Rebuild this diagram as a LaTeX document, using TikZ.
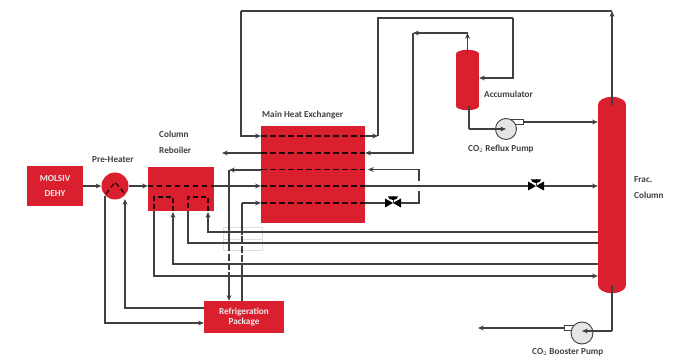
\documentclass[tikz,border=0pt]{standalone}
\usepackage{fontspec}
\setmainfont{Carlito}
\usepackage{tikz}
\usetikzlibrary{arrows.meta,positioning,calc}
\definecolor{unitred}{HTML}{DA1F2F}
\definecolor{pipegray}{HTML}{404040}
\tikzset{
  unit/.style={rectangle,fill=unitred,inner sep=0pt,align=center,text=white!92!black,font=\fontsize{9.2}{10}\selectfont\bfseries},
  lbl/.style={inner sep=0pt,align=left,text=black!75,font=\fontsize{9.2}{11}\selectfont\bfseries},
  pipe/.style={draw=pipegray,line width=1.25pt},
  fl/.style={pipe,-{Stealth[length=2mm,width=1.7mm]}},
  hot/.style={draw=black!85!unitred,line width=1.25pt,dash pattern=on 5.5pt off 3.5pt},
  gapline/.style={draw=pipegray,line width=1.25pt,dash pattern=on 7pt off 2.5pt},
  pumpc/.style={circle,draw=pipegray,fill=black!10,line width=0.9pt,minimum size=21pt,inner sep=0pt},
  nozzle/.style={rectangle,draw=pipegray,fill=white,line width=0.8pt,inner sep=0pt},
  patch/.style={rectangle,draw=black!13,fill=white,line width=0.4pt,inner sep=0pt,minimum width=39pt,minimum height=11.5pt},
  bow/.style={fill=black}
}
\begin{document}
\begin{tikzpicture}[x=1pt,y=-1pt]
\useasboundingbox (0,0) rectangle (681,358);
\fill[white] (0,0) rectangle (681,358);
% units
\node[unit,minimum width=56pt,minimum height=40pt] (dehy) at (55,186) {MOLSIV\\[5.5pt]DEHY};
\node[circle,fill=unitred,minimum size=27pt,inner sep=0pt] (ph) at (115,186) {};
\node[unit,minimum width=66pt,minimum height=44pt] (reb) at (181,189) {};
\node[unit,minimum width=104pt,minimum height=97pt] (hx) at (313,174.5) {};
\node[unit,minimum width=80pt,minimum height=32pt] (ref) at (244,317) {Refrigeration\\Package};
\node[unit,minimum width=23pt,minimum height=52pt] (acc) at (467.5,80) {};
\fill[unitred] (acc.north) ellipse (11.5 and 4);
\fill[unitred] (acc.south) ellipse (11.5 and 4);
\node[unit,minimum width=28pt,minimum height=180pt] (col) at (612,195) {};
\fill[unitred] (col.north) ellipse (14 and 8);
\fill[unitred] (col.south) ellipse (14 and 8);
% pumps
\node[nozzle,minimum width=12pt,minimum height=5.5pt] (rpn) at (517,122) {};
\node[pumpc] (rp) at (506,129) {};
\node[nozzle,minimum width=10pt,minimum height=5pt] (bpn) at (569,328) {};
\node[pumpc,minimum size=22pt] (bp) at (582,333) {};
% free ends
\coordinate (a1) at (241,11);
\coordinate (a2) at (612,11);
\coordinate (b1) at (378,136);
\coordinate (b2) at (378,18);
\coordinate (b3) at (513,18);
\coordinate (c1) at (413,33);
\coordinate (c2) at (467.5,33);
\coordinate (d1) at (222,153);
\coordinate (e1) at (229,170);
\coordinate (e2) at (419,169.5);
\coordinate (f1) at (242,203);
\coordinate (f2) at (419,203);
\coordinate (bo) at (478,328);
% valves
\coordinate (v1) at (393,203);
\coordinate (v2) at (536,186);
\foreach \v in {v1,v2}{
  \fill[bow] ($(\v)+(-8,-4.5)$) -- ($(\v)+(8,4.5)$) -- ($(\v)+(8,-4.5)$) -- ($(\v)+(-8,4.5)$) -- cycle;
  \draw[pipe,line width=0.8pt] (\v) -- ++(0,-7);
  \fill[bow] ($(\v)+(-5,-6.5)$) arc[start angle=180,end angle=0,x radius=5,y radius=3.5] -- cycle;
}
% patches behind the refrigerant pipes
\node[patch] (p1) at (242.5,233) {};
\node[patch] (p2) at (242.5,244.5) {};
% pipes
\draw[fl] (dehy) -- (ph);
\draw[fl] (ph) -- (reb.west|-ph);
\draw[fl] (reb.east|-ph) -- (hx.west|-ph);
\draw[hot] (reb.west|-ph) -- (reb.east|-ph);
\draw[pipe] (hx.east|-ph) -- ($(v2)+(-8,0)$);
\draw[fl] ($(v2)+(8,0)$) -- (col.west|-v2);
\draw[pipe] (a2) -- (a1);
\draw[fl] (col.north) -- (a2);
\draw[fl] (a1) |- (hx.west|-0,136);
\draw[hot] (261,136) -- (365,136);
\draw[hot] (261,153) -- (365,153);
\draw[hot] (261,169.5) -- (365,169.5);
\draw[hot] (261,186) -- (365,186);
\draw[hot] (261,203) -- (365,203);
\draw[fl] (hx.east|-b1) -- (b1);
\draw[pipe] (b1) -- (b2) -- (b3);
\draw[fl] (b3) |- (acc.east|-0,78);
\draw[fl] (acc.north) -- (c2);
\draw[fl] (c2) -- (c1);
\draw[fl] (c1) |- (hx.east|-0,153);
\draw[fl] (hx.west|-0,153) -- (d1);
\draw[fl] (e2|-0,181) -- (e2) -- (368,169.5);
\draw[fl] (hx.west|-e1) -- (e1);
\draw[pipe] (e1) -- (229,235);
\draw[gapline] (229,235) -- (229,272);
\draw[fl] (229,272) -- (ref.north-|e1);
\draw[pipe] (ref.north-|f1) -- (242,272);
\draw[gapline] (242,272) -- (242,235);
\draw[pipe] (242,235) -- (f1);
\draw[fl] (f1) -- (hx.west|-f1);
\draw[pipe] (hx.east|-f2) -- ($(v1)+(-8,0)$);
\draw[pipe] (e2|-0,191) -- (f2) -- ($(v1)+(8,0)$);
% reboiler coils
\draw[hot,dash pattern=on 5pt off 3pt] (208,211) -- (208,197) -- (188,197) -- (188,211);
\draw[hot,dash pattern=on 5pt off 3pt] (173,211) -- (173,197) -- (154,197) -- (154,211);
\draw[fl] (col.west|-0,232) -| (208,212);
\draw[pipe] (col.west|-0,243) -| (188,211);
\draw[fl] (col.west|-0,264) -| (173,212);
\draw[fl] (154,211) |- (col.west|-0,276);
% pre-heater
\draw[hot,dash pattern=on 5pt off 3pt] (106,194) -- (115,182) -- (125,194);
\draw[fl] (105,196) |- (ref.west|-0,323);
\draw[fl] (ref.west|-0,308) -| (125,199);
% pumps piping
\draw[pipe] (469,106) -- (469,129);
\draw[fl] (469,129) -- (rp.center);
\draw[fl] (rpn.east) -- (col.west|-rpn);
\draw[pipe] (col.south) -- (612,331);
\draw[fl] (612,331) -- (bp.center|-0,331);
\draw[fl] (bpn.west) -- (bo);
% labels
\node[lbl,anchor=west] (l1) at (92,160) {Pre-Heater};
\node[lbl,anchor=west] (l2) at (159,134) {Column};
\node[lbl,anchor=west] (l3) at (159,150) {Reboiler};
\node[lbl,anchor=west] (l4) at (262,115) {Main Heat Exchanger};
\node[lbl,anchor=west] (l5) at (484,94) {Accumulator};
\node[lbl,anchor=west] (l6) at (468,149) {CO$_2$ Reflux Pump};
\node[lbl,anchor=west] (l7) at (634,180) {Frac.};
\node[lbl,anchor=west] (l8) at (634,195) {Column};
\node[lbl,anchor=west] (l9) at (532,352) {CO$_2$ Booster Pump};
\end{tikzpicture}
\end{document}
